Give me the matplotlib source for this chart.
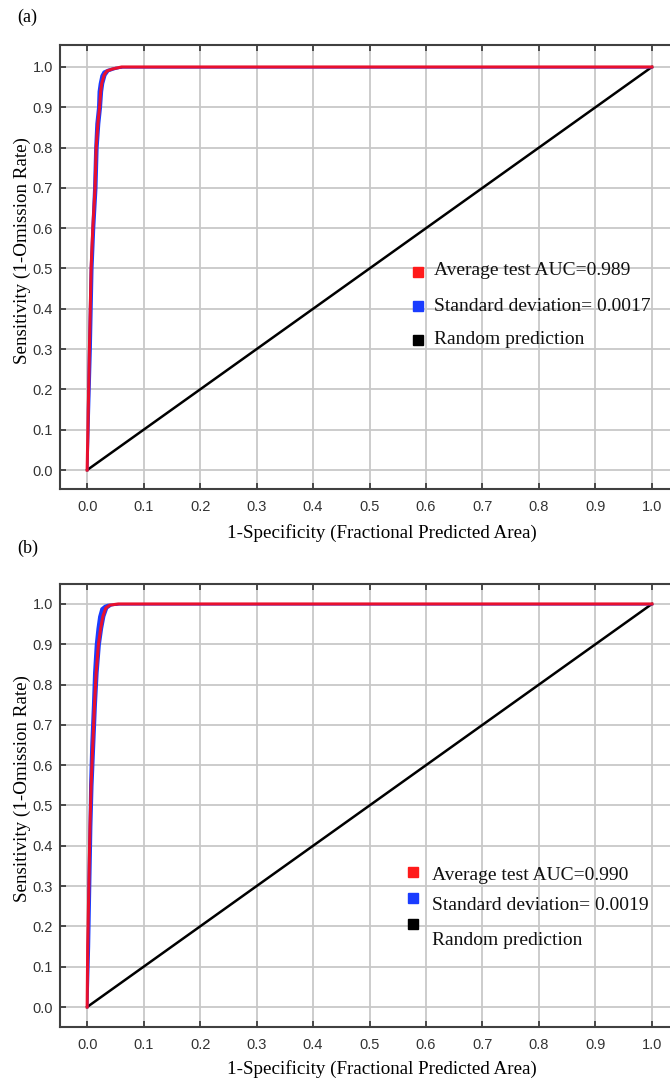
import matplotlib
matplotlib.use('Agg')
import matplotlib.pyplot as plt
import numpy as np

# Courbes ROC (sensibilite vs 1-specificite)
tpr_a = [0.0, 0.15, 0.30, 0.50, 0.60, 0.70, 0.80, 0.86, 0.90, 0.94,
         0.96, 0.98, 0.99, 0.995, 1.0, 1.0]
fpr_a = [0.0, 0.002, 0.004, 0.007, 0.010, 0.014, 0.016, 0.019, 0.022,
         0.024, 0.026, 0.030, 0.035, 0.045, 0.061, 1.0]
fpr_lo_a = [0.0, 0.000, 0.002, 0.005, 0.008, 0.011, 0.013, 0.015, 0.018,
            0.019, 0.021, 0.024, 0.028, 0.036, 0.050, 1.0]
fpr_hi_a = [0.0, 0.003, 0.006, 0.009, 0.012, 0.016, 0.018, 0.021, 0.024,
            0.026, 0.028, 0.032, 0.037, 0.047, 0.062, 1.0]

tpr_b = [0.0, 0.15, 0.30, 0.45, 0.55, 0.65, 0.75, 0.83, 0.90, 0.94,
         0.97, 0.99, 0.997, 1.0, 1.0]
fpr_b = [0.0, 0.001, 0.003, 0.005, 0.007, 0.010, 0.013, 0.016, 0.020,
         0.024, 0.028, 0.033, 0.040, 0.055, 1.0]
fpr_lo_b = [0.0, 0.000, 0.001, 0.003, 0.004, 0.006, 0.009, 0.011, 0.014,
            0.017, 0.020, 0.024, 0.030, 0.036, 1.0]
fpr_hi_b = [0.0, 0.003, 0.005, 0.007, 0.009, 0.012, 0.015, 0.018, 0.022,
            0.026, 0.030, 0.035, 0.042, 0.056, 1.0]

random_x = [0.0, 1.0]
random_y = [0.0, 1.0]

legende_a = ['Average test AUC=0.989', 'Standard deviation= 0.0017',
             'Random prediction']
legende_b = ['Average test AUC=0.990', 'Standard deviation= 0.0019',
             'Random prediction']
couleurs_leg = ['#ff1a1a', '#1a3cff', '#000000']
ticks = [round(0.1 * i, 1) for i in range(11)]
tick_labels = ['%.1f' % t for t in ticks]

serif = 'Liberation Serif'
sans = 'Liberation Sans'

fig = plt.figure(figsize=(6.7, 10.78), dpi=100)

# lettre, position, ylim, donnees, legende (x marqueur, x texte,
# y marqueurs, y textes), position y du label x
panneaux = [
    ('(a)', [0.0896, 0.5464, 0.9104, 0.4119], (-0.047, 1.0546),
     tpr_a, fpr_a, fpr_lo_a, fpr_hi_a, legende_a,
     0.587, 0.613, [0.489, 0.412, 0.336], [0.491, 0.412, 0.336], -0.079),
    ('(b)', [0.0896, 0.0473, 0.9104, 0.4110], (-0.0496, 1.0496),
     tpr_b, fpr_b, fpr_lo_b, fpr_hi_b, legende_b,
     0.579, 0.610, [0.350, 0.291, 0.2325], [0.343, 0.275, 0.196], -0.0745),
]

for (lettre, pos, ylim, tpr, fpr, lo, hi, leg,
     xm, xt, ym_list, yt_list, ylab) in panneaux:
    ax = fig.add_axes(pos)
    ax.set_xlim(-0.048, 1.032)
    ax.set_ylim(*ylim)
    ax.set_xticks(ticks)
    ax.set_yticks(ticks)
    ax.set_xticklabels(tick_labels, fontfamily=sans, fontsize=10.5,
                       color='#333333')
    ax.set_yticklabels(tick_labels, fontfamily=sans, fontsize=10.5,
                       color='#333333')
    ax.tick_params(direction='in', top=True, right=False, length=4,
                   width=1.2, color='#333333', pad=8)
    ax.tick_params(axis='y', pad=5)
    ax.grid(True, color='#c8c8c8', linewidth=1.3)
    ax.set_axisbelow(True)
    for s in ['left', 'top', 'bottom']:
        ax.spines[s].set_color('#404040')
        ax.spines[s].set_linewidth(1.5)
    ax.spines['right'].set_visible(False)

    ax.plot(random_x, random_y, color='black', linewidth=1.8, zorder=3)
    ax.fill_betweenx(tpr, lo, hi, color='#1a3cff', linewidth=1.2,
                     edgecolor='#1a3cff', zorder=4)
    ax.plot(fpr, tpr, color='#e8102e', linewidth=2.2, zorder=5)

    ax.set_xlabel('1-Specificity (Fractional Predicted Area)',
                  fontfamily=serif, fontsize=13.7)
    ax.xaxis.set_label_coords(0.528, ylab)
    ax.set_ylabel('Sensitivity (1-Omission Rate)', fontfamily=serif,
                  fontsize=13.7)
    ax.yaxis.set_label_coords(-0.047, 0.538)

    for txt, c, ym, yt in zip(leg, couleurs_leg, ym_list, yt_list):
        ax.plot([xm], [ym], marker='s', markersize=7, color=c,
                linestyle='none', transform=ax.transAxes, clip_on=False,
                zorder=6)
        ax.text(xt, yt, txt, transform=ax.transAxes, fontfamily=serif,
                fontsize=14, va='center', ha='left', color='#111111',
                zorder=6)

fig.text(0.026, 0.984, '(a)', fontfamily=serif, fontsize=13, va='center')
fig.text(0.026, 0.491, '(b)', fontfamily=serif, fontsize=13, va='center')

plt.savefig('out.png', dpi=100)
